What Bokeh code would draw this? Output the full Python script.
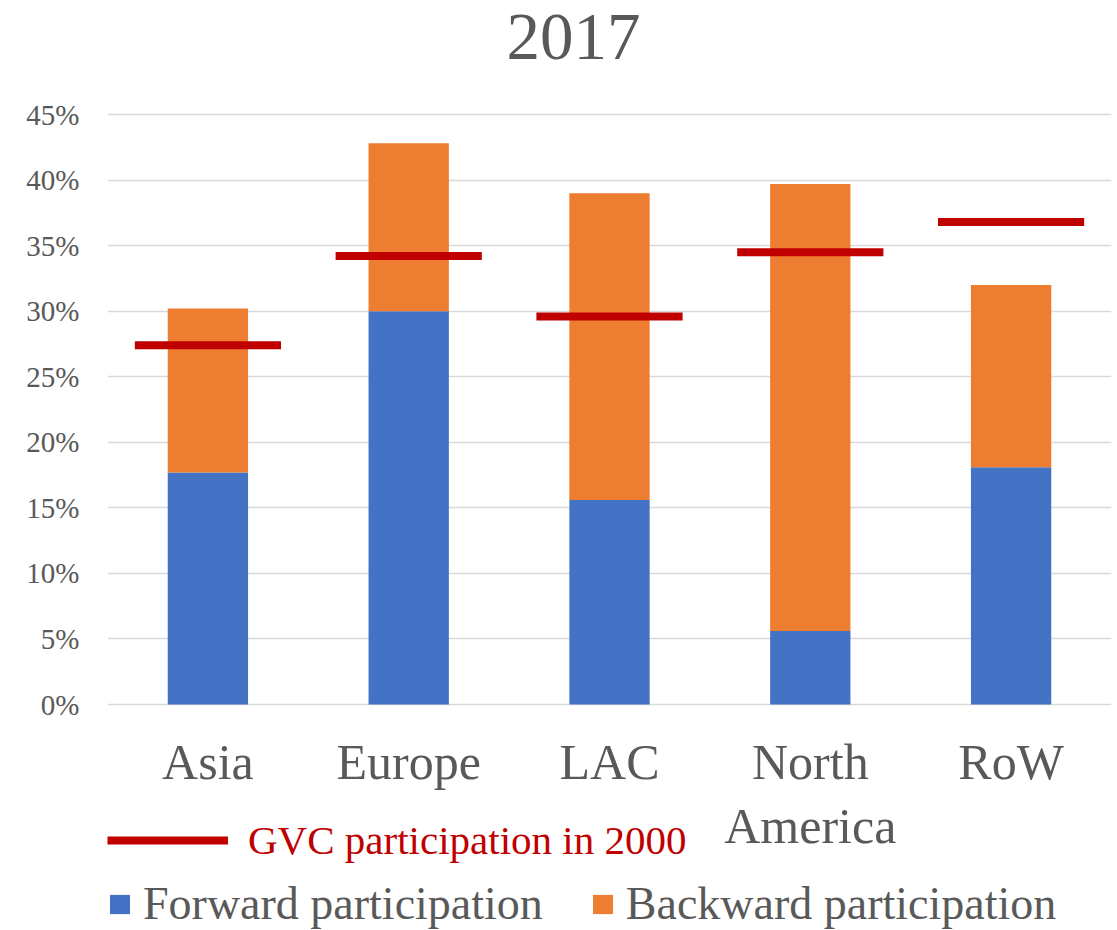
from bokeh.plotting import figure
from bokeh.models import (ColumnDataSource, FactorRange, Range1d, FixedTicker,
                          NumeralTickFormatter, Legend, LegendItem, Label)
from bokeh.core.properties import value
from bokeh.transform import dodge
from bokeh.embed import file_html
from bokeh.resources import INLINE

# ---- data ----
regions = ["Asia", "Europe", "LAC", "North America", "RoW"]
region_labels = ["Asia", "Europe", "LAC", "North\nAmerica", "RoW"]
forward = [0.177, 0.300, 0.156, 0.056, 0.181]
backward = [0.125, 0.128, 0.234, 0.341, 0.139]
gvc_2000 = [0.274, 0.342, 0.296, 0.345, 0.368]
y_ticks = [0, 0.05, 0.10, 0.15, 0.20, 0.25, 0.30, 0.35, 0.40, 0.45]
title_text = "2017"

FONT = "Liberation Serif"
GRAY = "#595959"
RED = "#C00000"
BLUE = "#4472C4"
ORANGE = "#ED7D31"

# layout: plot area from y=114px (45%) to y=704px (0%) in a 930px tall canvas
W, H = 1117, 930
TOP_PX, ZERO_PX = 114, 704
px_per_unit = (ZERO_PX - TOP_PX) / y_ticks[-1]
Y_MAX = y_ticks[-1] + TOP_PX / px_per_unit
Y_MIN = -(H - ZERO_PX) / px_per_unit

source = ColumnDataSource(dict(region=regions, label=region_labels,
                               fwd=forward, bwd=backward, gvc=gvc_2000,
                               base=[0] * len(regions)))

p = figure(width=W, height=H, x_range=FactorRange(*regions),
           y_range=Range1d(Y_MIN, Y_MAX), x_axis_location=None,
           output_backend="svg", toolbar_location=None,
           min_border_left=107, min_border_right=6, min_border_top=0, min_border_bottom=0)

bars = p.vbar_stack(["fwd", "bwd"], x="region", width=0.4, color=[BLUE, ORANGE],
                    line_color=None, source=source)

gvc = p.segment(x0=dodge("region", -0.364, range=p.x_range), x1=dodge("region", 0.364, range=p.x_range),
                y0="gvc", y1="gvc", line_color=RED, line_width=8, line_cap="butt", source=source)

# category labels under the bars
p.text(x="region", y="base", text="label", source=source, y_offset=29,
       text_align="center", text_baseline="top", text_font=value(FONT),
       text_font_size="50px", text_color=GRAY, text_line_height=1.16)

p.add_layout(Label(x=466, y=894, x_units="screen", y_units="screen", text=title_text,
                   text_align="center", text_baseline="alphabetic", text_font=FONT,
                   text_font_size="67px", text_color=GRAY))

p.outline_line_color = None
p.background_fill_color = "white"
p.border_fill_color = "white"
p.xgrid.grid_line_color = None

p.yaxis.ticker = FixedTicker(ticks=y_ticks)
p.ygrid.ticker = FixedTicker(ticks=y_ticks)
p.ygrid.grid_line_color = "#D9D9D9"
p.ygrid.grid_line_width = 1.3
p.yaxis.formatter = NumeralTickFormatter(format="0%")
p.yaxis.axis_line_color = None
p.yaxis.major_tick_line_color = None
p.yaxis.minor_tick_line_color = None
p.yaxis.major_label_text_font = FONT
p.yaxis.major_label_text_font_size = "29px"
p.yaxis.major_label_text_color = GRAY
p.yaxis.major_label_standoff = 22

leg1 = Legend(items=[LegendItem(label="GVC participation in 2000", renderers=[gvc])],
              location=(0, 66), orientation="horizontal",
              glyph_width=121, glyph_height=46, label_standoff=20, padding=0, margin=0,
              border_line_color=None, background_fill_alpha=0,
              label_text_font=FONT, label_text_font_size="41px", label_text_color=RED)
leg2 = Legend(items=[LegendItem(label="Forward participation", renderers=[bars[0]]),
                     LegendItem(label="Backward participation", renderers=[bars[1]])],
              location=(0, 0), orientation="horizontal",
              glyph_width=25, glyph_height=24, label_standoff=11, spacing=47, padding=0, margin=0,
              border_line_color=None, background_fill_alpha=0,
              label_text_font=FONT, label_text_font_size="46px", label_text_color=GRAY)
p.add_layout(leg1, "center")
p.add_layout(leg2, "center")

open("out.html", "w").write(file_html(p, INLINE))
